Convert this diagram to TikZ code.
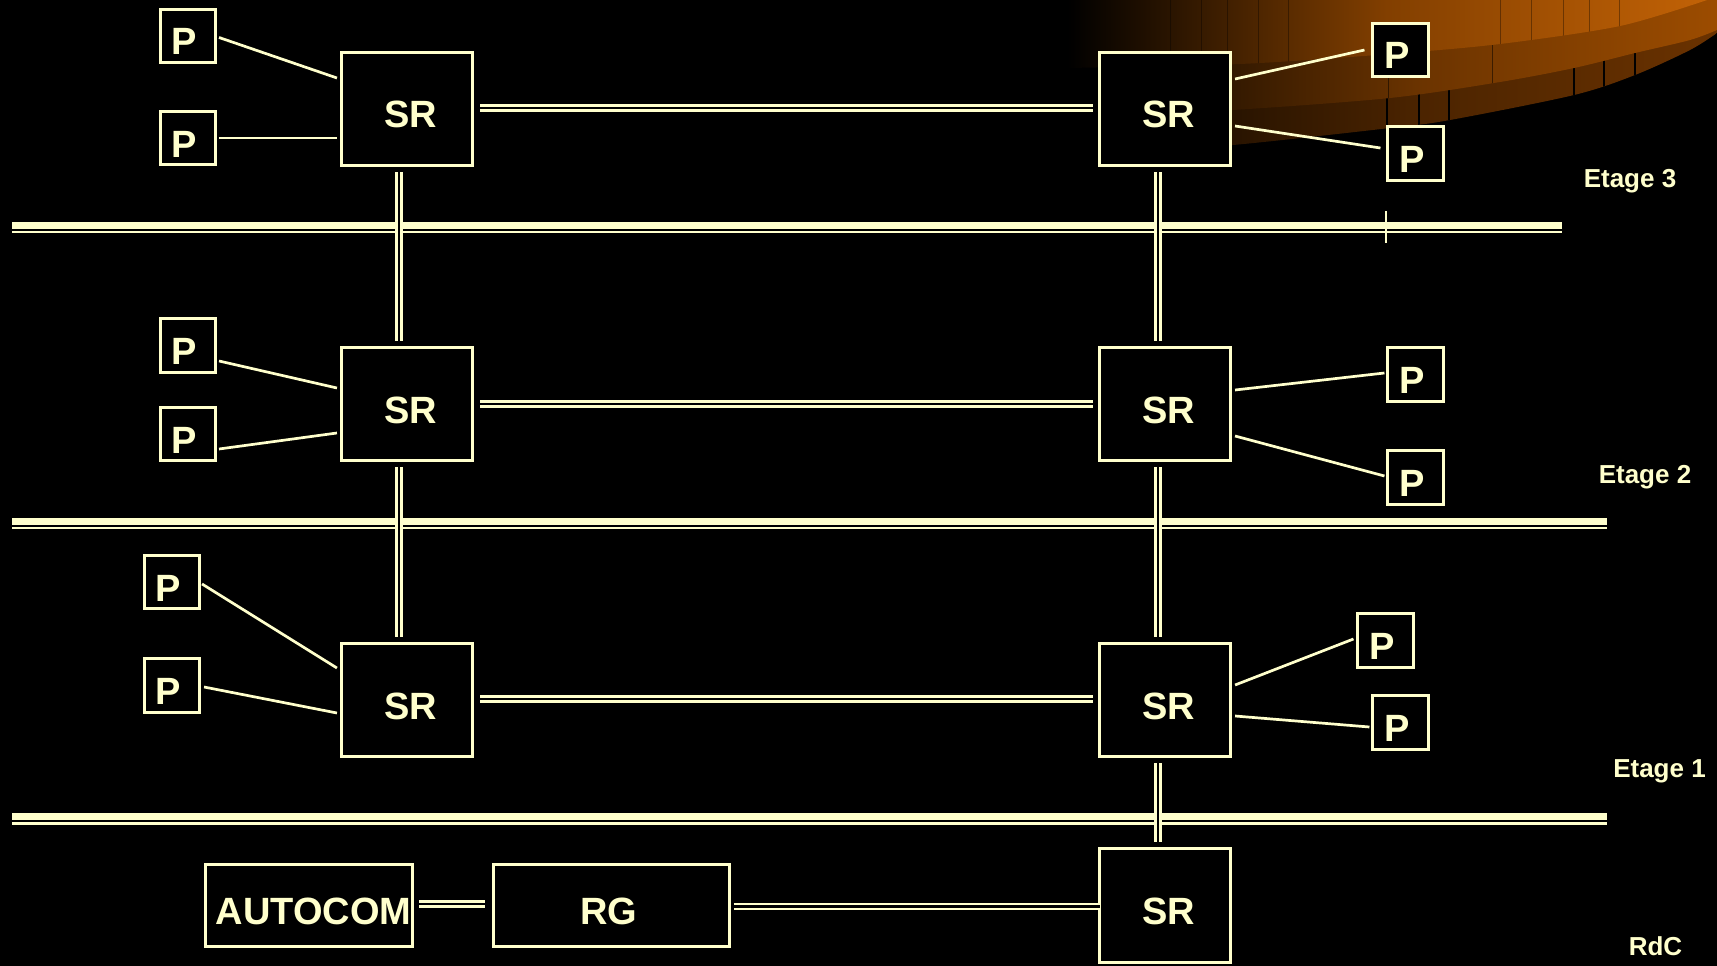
\documentclass[tikz,border=0pt]{standalone}
\usepackage{fontspec}
\setmainfont{Liberation Sans}
\definecolor{cream}{RGB}{255,255,204}
\definecolor{brA}{RGB}{130,63,0}
\definecolor{brB}{RGB}{194,98,6}
\definecolor{mdL}{RGB}{22,11,0}
\definecolor{mdM}{RGB}{108,52,0}
\definecolor{mdR}{RGB}{156,76,0}
\definecolor{dkL}{RGB}{22,11,0}
\definecolor{dkM}{RGB}{76,36,0}
\definecolor{dkR}{RGB}{106,50,0}
\tikzset{
  box/.style={draw=cream, line width=2.6pt, fill=black, text=cream, inner sep=0pt,
    font=\bfseries\fontsize{38}{44}\selectfont, text height=38pt, text depth=0pt},
  srbox/.style={box, minimum width=131.5pt, minimum height=113.5pt},
  pbox/.style={box, minimum width=55.5pt, minimum height=53.5pt},
  wide/.style={box, minimum height=82.5pt},
  wire/.style={draw=cream, line width=2.7pt},
  dbl/.style={draw=cream, line width=2.4pt, double=black, double distance=2.8pt},
  floorthick/.style={draw=cream, line width=7pt},
  floorthin/.style={draw=cream, line width=2.6pt},
  etage/.style={text=cream, font=\bfseries\fontsize{26}{30}\selectfont, anchor=base, inner sep=0pt}
}
\begin{document}
\begin{tikzpicture}[x=1pt,y=-1pt]
\useasboundingbox (0,0) rectangle (1717,966);
\fill[black] (0,0) rectangle (1717,966);

% --- decorative orange disc (top right) ---
\shade[left color=dkL, right color=dkR, middle color=dkM]
  (1130,0) -- (1717,0) -- (1717,33) -- plot[smooth] coordinates {(1717,33) (1690,50) (1635,75) (1574,95) (1450,120) (1390,128) (1233,145) (1130,151)} -- cycle;
\begin{scope}
  \clip (1130,0) -- (1717,0) -- (1717,33) -- plot[smooth] coordinates {(1717,33) (1690,50) (1635,75) (1574,95) (1450,120) (1390,128) (1233,145) (1130,151)} -- cycle;
  \foreach \x in {1387,1419,1449,1574,1604,1635} \draw[black, line width=1.2pt] (\x,0) -- (\x,160);
\end{scope}
\shade[left color=mdL, right color=mdR, middle color=mdM]
  (1130,0) -- (1717,0) -- (1717,30) -- plot[smooth] coordinates {(1717,30) (1690,40) (1635,53) (1574,68) (1500,82) (1390,98) (1233,110) (1130,114)} -- cycle;
\begin{scope}
  \clip (1130,0) -- (1717,0) -- (1717,30) -- plot[smooth] coordinates {(1717,30) (1690,40) (1635,53) (1574,68) (1500,82) (1390,98) (1233,110) (1130,114)} -- cycle;
  \foreach \x in {1388,1492} \draw[black, opacity=0.5, line width=0.8pt] (\x,0) -- (\x,160);
\end{scope}
\shade[left color=black, right color=brB, middle color=brA]
  (1067,0) -- (1707,0) -- plot[smooth] coordinates {(1707,0) (1620,26) (1500,44) (1390,54) (1240,64) (1067,68)} -- cycle;
\begin{scope}
  \clip (1067,0) -- (1707,0) -- plot[smooth] coordinates {(1707,0) (1620,26) (1500,44) (1390,54) (1240,64) (1067,68)} -- cycle;
  \foreach \x in {1170,1201,1227,1258,1288,1500,1531,1563,1589,1619} \draw[black, opacity=0.35, line width=0.8pt] (\x,0) -- (\x,80);
\end{scope}

% --- floor lines ---
\draw[floorthick] (12,225.5) -- (1562,225.5);
\draw[floorthin] (12,232) -- (1562,232);
\draw[cream, line width=2pt] (1386,211) -- (1386,243);
\draw[floorthick] (12,521) -- (1607,521);
\draw[floorthin] (12,528) -- (1607,528);
\draw[floorthick] (12,816.5) -- (1607,816.5);
\draw[floorthin] (12,823.5) -- (1607,823.5);

% --- nodes ---
\node[srbox] (SR1) at (407,109) {\hspace*{7pt}SR};
\node[srbox] (SR2) at (407,404) {\hspace*{7pt}SR};
\node[srbox] (SR3) at (407,700) {\hspace*{7pt}SR};
\node[srbox] (SR4) at (1165,109) {\hspace*{7pt}SR};
\node[srbox] (SR5) at (1165,404) {\hspace*{7pt}SR};
\node[srbox] (SR6) at (1165,700) {\hspace*{7pt}SR};
\node[srbox] (SR7) at (1165,905.5) {\hspace*{7pt}SR};

\node[pbox] (P1a) at (188,36) {P\hspace*{7pt}};
\node[pbox] (P1b) at (188,138) {P\hspace*{7pt}};
\node[pbox] (P2a) at (188,345.5) {P\hspace*{7pt}};
\node[pbox] (P2b) at (188,434) {P\hspace*{7pt}};
\node[pbox] (P3a) at (172,582) {P\hspace*{7pt}};
\node[pbox] (P3b) at (172,685.5) {P\hspace*{7pt}};
\node[pbox] (P4a) at (1400.5,50) {P\hspace*{7pt}};
\node[pbox] (P4b) at (1415.5,153.5) {P\hspace*{7pt}};
\node[pbox] (P5a) at (1415.5,374.5) {P\hspace*{7pt}};
\node[pbox] (P5b) at (1415.5,477.5) {P\hspace*{7pt}};
\node[pbox] (P6a) at (1385.5,640.5) {P\hspace*{7pt}};
\node[pbox] (P6b) at (1400.5,722.5) {P\hspace*{7pt}};

\node[wide, minimum width=207pt] (AUTO) at (309,905.5) {\hspace*{9pt}AUTOCOM};
\node[wide, minimum width=236pt] (RG) at (611.5,905.5) {RG\hspace*{5pt}};

% --- level labels ---
\node[etage] (E3) at (1630,187) {Etage 3};
\node[etage] (E2) at (1645,483.5) {Etage 2};
\node[etage] (E1) at (1659.5,777.5) {Etage 1};
\node[etage] (RdC) at (1655.5,955) {RdC};

% --- P to SR wires ---
\draw[wire] ([xshift=2pt,yshift=-1.5pt]P1a.east) -- ([xshift=-3pt,yshift=31pt]SR1.west);
\draw[wire] ([xshift=2pt]P1b.east) -- ([xshift=-3pt,yshift=-29pt]SR1.west);
\draw[wire] ([xshift=2pt,yshift=-15.5pt]P2a.east) -- ([xshift=-3pt,yshift=16pt]SR2.west);
\draw[wire] ([xshift=2pt,yshift=-15pt]P2b.east) -- ([xshift=-3pt,yshift=-29pt]SR2.west);
\draw[wire] ([xshift=1pt,yshift=-2pt]P3a.east) -- ([xshift=-3pt,yshift=32pt]SR3.west);
\draw[wire] ([xshift=3pt,yshift=-1.5pt]P3b.east) -- ([xshift=-3pt,yshift=-13pt]SR3.west);
\draw[wire] ([xshift=3pt,yshift=30pt]SR4.east) -- ([xshift=-7pt]P4a.west);
\draw[wire] ([xshift=3pt,yshift=-17pt]SR4.east) -- ([xshift=-6pt,yshift=5.5pt]P4b.west);
\draw[wire] ([xshift=3pt,yshift=14pt]SR5.east) -- ([xshift=-2pt,yshift=1.5pt]P5a.west);
\draw[wire] ([xshift=3pt,yshift=-32pt]SR5.east) -- ([xshift=-2pt,yshift=1.5pt]P5b.west);
\draw[wire] ([xshift=3pt,yshift=15pt]SR6.east) -- ([xshift=-3pt,yshift=1.5pt]P6a.west);
\draw[wire] ([xshift=3pt,yshift=-16pt]SR6.east) -- ([xshift=-2pt,yshift=-4.5pt]P6b.west);

% --- double links ---
\draw[dbl] ([xshift=6pt,yshift=1pt]SR1.east) -- ([xshift=-5pt,yshift=1pt]SR4.west);
\draw[dbl] ([xshift=6pt]SR2.east) -- ([xshift=-5pt]SR5.west);
\draw[dbl] ([xshift=6pt,yshift=1pt]SR3.east) -- ([xshift=-5pt,yshift=1pt]SR6.west);
\draw[dbl] ([xshift=-8pt,yshift=-5pt]SR1.south) -- ([xshift=-8pt,yshift=5pt]SR2.north);
\draw[dbl] ([xshift=-8pt,yshift=-5pt]SR2.south) -- ([xshift=-8pt,yshift=5pt]SR3.north);
\draw[dbl] ([xshift=-7pt,yshift=-5pt]SR4.south) -- ([xshift=-7pt,yshift=5pt]SR5.north);
\draw[dbl] ([xshift=-7pt,yshift=-5pt]SR5.south) -- ([xshift=-7pt,yshift=5pt]SR6.north);
\draw[dbl] ([xshift=-7pt,yshift=-5pt]SR6.south) -- ([xshift=-7pt,yshift=5pt]SR7.north);
\draw[dbl] ([xshift=5pt,yshift=1.5pt]AUTO.east) -- ([xshift=-7pt,yshift=1.5pt]RG.west);
\draw[dbl] ([xshift=3pt,yshift=-1pt]RG.east) -- ([xshift=2pt,yshift=-1pt]SR7.west);
\end{tikzpicture}
\end{document}
